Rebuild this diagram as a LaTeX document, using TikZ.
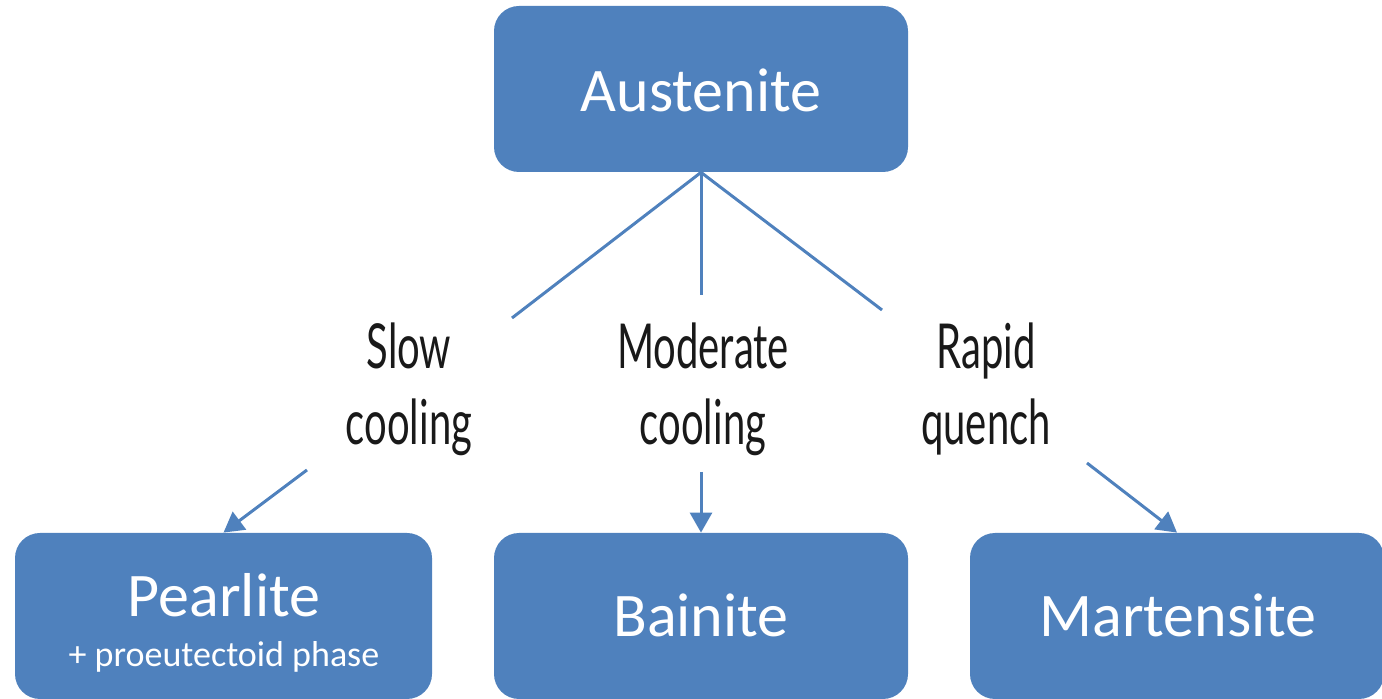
\documentclass[tikz,border=0pt]{standalone}
\usepackage{fontspec}
\setmainfont{Carlito}
\newfontfamily\boxfont{Carlito}
\newfontfamily\condfont[FakeStretch=0.645]{Lato}
\usetikzlibrary{arrows.meta}
\definecolor{boxblue}{HTML}{4F81BD}
\tikzset{
  box/.style={fill=boxblue, rounded corners=12.5pt, minimum width=207pt, minimum height=83pt, inner sep=0pt, text=white, font=\boxfont\fontsize{31}{36}\selectfont},
  subtext/.style={text=white, inner sep=0pt, font=\boxfont\fontsize{18}{22}\selectfont},
  lbl/.style={align=center, inner sep=0pt, text=black!90, font=\condfont\fontsize{31}{38}\selectfont},
  conn/.style={draw=boxblue, line width=1.5pt},
  arr/.style={conn, -{Triangle[length=10pt,width=11pt]}}
}
\begin{document}
\begin{tikzpicture}[x=0.5pt,y=-0.5pt]
\useasboundingbox (0,0) rectangle (1382,699);
% boxes
\node[box] (austenite) at (701,89) {};
\node[box, fill=none, minimum width=0pt, minimum height=0pt, anchor=base] (austenitetext) at (701,112) {Austenite};
\node[box, minimum width=208.5pt] (pearlite) at (223.5,616) {};
\node[box] (bainite) at (701,616) {};
\node[box] (martensite) at (1177,616) {};
\node[box, fill=none, minimum width=0pt, minimum height=0pt, anchor=base] (bainitetext) at (701,637) {Bainite};
\node[box, fill=none, minimum width=0pt, minimum height=0pt, anchor=base] (martensitetext) at (1178,637) {Martensite};
\node[box, fill=none, minimum width=0pt, minimum height=0pt, anchor=base] (pearlitetext) at (224,617) {Pearlite};
\node[subtext, anchor=base] (pearlitesub) at (224,667) {+ proeutectoid phase};
% labels
\node[lbl] (slow) at (409,389) {Slow\\cooling};
\node[lbl] (moderate) at (703,389) {Moderate\\cooling};
\node[lbl] (rapid) at (986,389) {Rapid\\quench};
% connector end points
\coordinate (s1) at (512,318);
\coordinate (m1) at (701,295);
\coordinate (r1) at (882,310);
\coordinate (s2) at (307,470);
\coordinate (m2) at (701,472);
\coordinate (r2) at (1087,463);
\draw[conn] (austenite.south) -- (s1);
\draw[conn] (austenite.south) -- (m1);
\draw[conn] (austenite.south) -- (r1);
\draw[arr] (s2) -- (pearlite.north);
\draw[arr] (m2) -- (bainite.north);
\draw[arr] (r2) -- (martensite.north);
\end{tikzpicture}
\end{document}
